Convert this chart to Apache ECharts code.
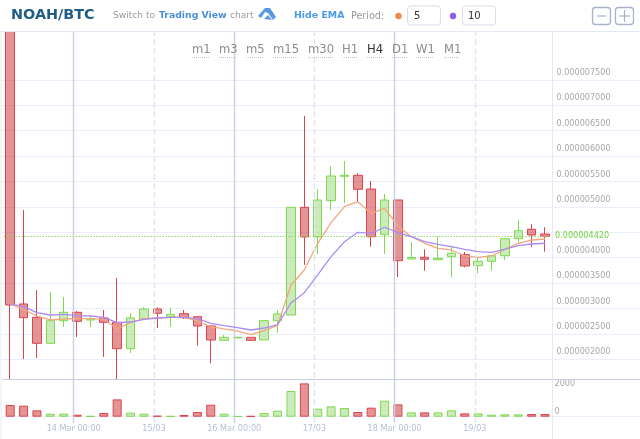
<!DOCTYPE html>
<html><head><meta charset="utf-8">
<style>html,body{margin:0;padding:0;background:#fff}#c{width:640px;height:439px}</style>
<script src="https://cdn.jsdelivr.net/npm/echarts@6/dist/echarts.min.js"></script></head>
<body><div id="c"></div>
<script>
// prices in 1e-9 BTC, x in hours from 13 Mar 00:00
const candleHours=[5,9,13,17,21,25,29,33,37,41,45,49,53,57,61,65,69,73,77,81,85,89,93,97,101,105,109,113,117,121,125,129,133,137,141,145,149,153,157,161,165];
const opens=[8800,3089,2827,2315,2760,2925,2774,2813,2728,2209,2793,2990,2839,2898,2839,2656,2374,2420,2433,2380,2760,2872,4992,4408,5122,5603,5622,5352,4453,5136,3975,4008,3961,4020,4059,3843,3929,4039,4374,4559,4467];
const closes=[3069,2819,2315,2760,2925,2748,2799,2728,2209,2813,2990,2906,2886,2819,2656,2380,2433,2433,2374,2760,2892,4992,4408,5136,5608,5622,5347,4413,5136,3941,4004,3969,3988,4087,3837,3929,4039,4374,4532,4447,4421];
const lows=[1612,2006,2026,2315,2636,2439,2636,2045,1612,2124,2793,2616,2642,2793,2268,1921,2374,2420,2374,2380,2518,2872,3856,4073,4939,5077,5103,4217,4073,3620,3975,3744,3955,3614,3811,3693,3744,3955,4303,4205,4118];
const highs=[8800,4939,3364,3325,3226,2951,2852,2971,3601,2912,3024,3024,3016,2971,2852,2675,2479,2433,2433,2760,2971,4992,6789,5347,5805,5904,5661,5510,5254,5136,4303,4165,4413,4217,4112,4000,4053,4388,4742,4658,4599];
const ema5=[3089,2984,2852,2774,2793,2799,2799,2787,2597,2721,2799,2813,2827,2827,2754,2642,2597,2557,2484,2563,2669,3463,3758,4284,4689,5004,5103,4874,4972,4624,4413,4284,4185,4152,4034,4008,4034,4165,4284,4348,4368];
const ema10=[3089,3036,2917,2872,2886,2858,2852,2827,2721,2734,2787,2813,2827,2827,2799,2709,2662,2622,2577,2616,2681,3108,3311,3660,4020,4315,4500,4480,4599,4492,4413,4315,4264,4217,4165,4118,4106,4171,4236,4270,4284];
const volumes=[845,795,457,217,217,145,50,265,1250,290,217,70,50,120,340,865,217,35,50,265,433,1855,2405,578,745,625,337,650,1155,890,312,312,312,457,240,240,145,168,168,192,192];
const lastPrice=4420;
const hiddenPriceLabels=[4500,8000];
const dayTicks=[24,48,72,96,120,144];
const dayLabels=['14 Mar 00:00','15/03','16 Mar 00:00','17/03','18 Mar 00:00','19/03'];
const timeframes=['m1','m3','m5','m15','m30','H1','H4','D1','W1','M1'];
const timeframeX=[192,219,246,273,308,342,367,392,416,444];
const timeframeW=[18,18,18,26,26,16,18,15,18,16];

const RED='#d9444f',GREEN='#7fd94f',REDF='rgba(205,60,60,.55)',GREENF='rgba(130,210,90,.42)';
const FONT='"DejaVu Sans"';
const fmt=v=>(v/1e9).toFixed(9);
const xBase={type:'value',min:0,max:198,show:false};
const X0=-6.5,XW=661.8;
const GL='#eaeefa',NOL='rgba(0,0,0,0)';

function txt(x,y,t,fs,c,w){return {type:'text',z:101,silent:true,style:{x,y,text:t,font:(w||'normal')+' '+fs+'px '+FONT,fill:c,textVerticalAlign:'middle'}};}
function ln(x1,y1,x2,y2,c,d,lw,z){return {type:'line',z:z||100,silent:true,shape:{x1,y1,x2,y2},style:{stroke:c,lineWidth:lw||1,lineDash:d||null}};}
function box(x,y,w,h,c,lw){return {type:'rect',z:101,silent:true,shape:{x,y,width:w,height:h,r:3},style:{fill:'#fff',stroke:c,lineWidth:lw||1}};}

const graphics=[
 {type:'rect',z:99,silent:true,shape:{x:0,y:0,width:640,height:31.5},style:{fill:'#fff'}},
 {type:'rect',z:99,silent:true,shape:{x:0,y:31,width:2,height:408},style:{fill:'#f4f5f9'}},
 ln(0,31.5,640,31.5,'#e4e8f2'),
 ln(2,379.5,640,379.5,'#c9cede'),
 ln(552.5,32,552.5,439,'#e6e9f5'),
 txt(11,15,'NOAH/BTC',14.4,'#1f5d84','bold'),
 txt(113,15.5,'Switch to',9.1,'#9a9a9a'),
 txt(159,15.5,'Trading View',9.3,'#4a90d9','bold'),
 txt(230,15.5,'chart',9.1,'#9a9a9a'),
 {type:'polygon',z:101,silent:true,shape:{points:[[258,16],[265,8],[270,8],[276,17],[273,20],[268,13],[265,12],[261,18]]},style:{fill:'#5a9be0'}},
 {type:'polygon',z:101,silent:true,shape:{points:[[264,19],[268,15],[272,20]]},style:{fill:'#5a9be0'}},
 txt(294,16,'Hide EMA',9.4,'#4a9be8','bold'),
 txt(351,16,'Period:',9.6,'#9a9a9a'),
 {type:'circle',z:101,silent:true,shape:{cx:398.5,cy:16,r:3.2},style:{fill:'#ef8a50'}},
 box(407.5,6,33,19,'#d8dde8'),
 txt(414,16,'5',10,'#333'),
 {type:'circle',z:101,silent:true,shape:{cx:453,cy:16,r:3.2},style:{fill:'#8b5cf0'}},
 box(462.5,6,33,19,'#d8dde8'),
 txt(468,16,'10',10,'#333'),
 box(592.5,7.5,18,17,'#a9b3c9',1.3),
 ln(597,16,606,16,'#a9b3c9',null,1.2,102),
 box(615.5,7.5,18,17,'#a9b3c9',1.3),
 ln(619,16,630,16,'#a9b3c9',null,1.2,102),
 ln(624.5,10,624.5,22,'#a9b3c9',null,1.2,102)
];
timeframes.forEach((t,i)=>{
 graphics.push(txt(timeframeX[i],50,t,11.6,t==='H4'?'#333':'#8c8c8c'));
 graphics.push(ln(timeframeX[i],57.5,timeframeX[i]+timeframeW[i],57.5,'#c4c4c4',[1,1]));
});

const chart=echarts.init(document.getElementById('c'),null,{renderer:'canvas'});
chart.setOption({
 animation:false,backgroundColor:'#fff',
 graphic:graphics,
 grid:[
  {left:X0,width:XW,top:29.1,height:355.6,outerBoundsMode:'none'},
  {left:X0,width:XW,top:379.5,height:37.2,outerBoundsMode:'none'},
  {left:X0,width:XW,top:32,height:391,outerBoundsMode:'none'}
 ],
 xAxis:[
  Object.assign({gridIndex:0},xBase),
  Object.assign({gridIndex:1},xBase),
  {gridIndex:2,type:'value',min:0,max:198,axisLine:{show:false},axisTick:{show:false},splitLine:{show:false},
   axisLabel:{customValues:dayTicks,margin:2,fontFamily:FONT,fontSize:8.1,
    formatter:v=>dayLabels[dayTicks.indexOf(v)]||'',
    color:v=>dayTicks.indexOf(v)%2===0?'#7f8aa6':'#b6bfd2'}}
 ],
 yAxis:[
  {gridIndex:0,type:'value',min:1500,max:8500,interval:500,position:'left',axisLine:{show:false},axisTick:{show:false},
   splitLine:{show:true,showMinLine:false,showMaxLine:false,lineStyle:{color:[GL,GL,GL,GL,GL,GL,GL,GL,GL,GL,GL,GL,NOL,GL,GL],width:1}},
   axisLabel:{inside:true,margin:563,showMinLabel:false,showMaxLabel:false,fontFamily:FONT,fontSize:8.1,color:'#a8a8a8',align:'left',verticalAlign:'bottom',padding:[0,0,3,0],
    formatter:v=>hiddenPriceLabels.indexOf(v)>=0?'':fmt(v)}},
  {gridIndex:1,type:'value',min:0,max:2685,interval:2000,position:'left',axisLine:{show:false},axisTick:{show:false},
   splitLine:{show:true,showMaxLine:false,lineStyle:{color:[GL,NOL]}},
   axisLabel:{inside:true,margin:561,showMaxLabel:false,fontFamily:FONT,fontSize:8.1,color:'#a8a8a8',align:'left',verticalAlign:'bottom',padding:[0,0,1,0],formatter:v=>String(v)}},
  {gridIndex:2,type:'value',min:0,max:1,show:false}
 ],
 series:[
  {type:'line',xAxisIndex:2,yAxisIndex:2,data:[],z:1,silent:true,
   markLine:{silent:true,symbol:'none',label:{show:false},animation:false,
    data:dayTicks.map((t,i)=>({xAxis:t,lineStyle:i%2===0?{color:'#c9d0e4',width:1.4,type:'solid'}:{color:'#e2e5ee',width:1.4,type:[6,3]}}))}},
  {type:'candlestick',xAxisIndex:0,yAxisIndex:0,z:3,barWidth:9,
   data:candleHours.map((h,i)=>[h,opens[i],closes[i],lows[i],highs[i]]),
   itemStyle:{color:GREENF,color0:REDF,borderColor:GREEN,borderColor0:RED,borderWidth:1},
   markLine:{silent:true,symbol:'none',animation:false,
    lineStyle:{color:'#8fd96a',type:[1.5,1.5],width:1},
    label:{show:true,position:'end',distance:5,formatter:()=>fmt(lastPrice),color:'#6fd13c',fontFamily:FONT,fontSize:8.1},
    data:[[{xAxis:3,yAxis:lastPrice},{xAxis:166.5,yAxis:lastPrice}]]}},
  {type:'line',xAxisIndex:0,yAxisIndex:0,z:4,symbol:'none',silent:true,data:candleHours.map((h,i)=>[h,ema5[i]]),lineStyle:{color:'#f2a77f',width:1.3}},
  {type:'line',xAxisIndex:0,yAxisIndex:0,z:5,symbol:'none',silent:true,data:candleHours.map((h,i)=>[h,ema10[i]]),lineStyle:{color:'#ab8cf6',width:1.3}},
  {type:'bar',xAxisIndex:1,yAxisIndex:1,z:3,barWidth:9,
   data:candleHours.map((h,i)=>{const up=closes[i]>opens[i];return {value:[h,volumes[i]],itemStyle:{color:up?GREENF:REDF,borderColor:up?GREEN:RED,borderWidth:1}};})}
 ]
});
</script></body></html>
